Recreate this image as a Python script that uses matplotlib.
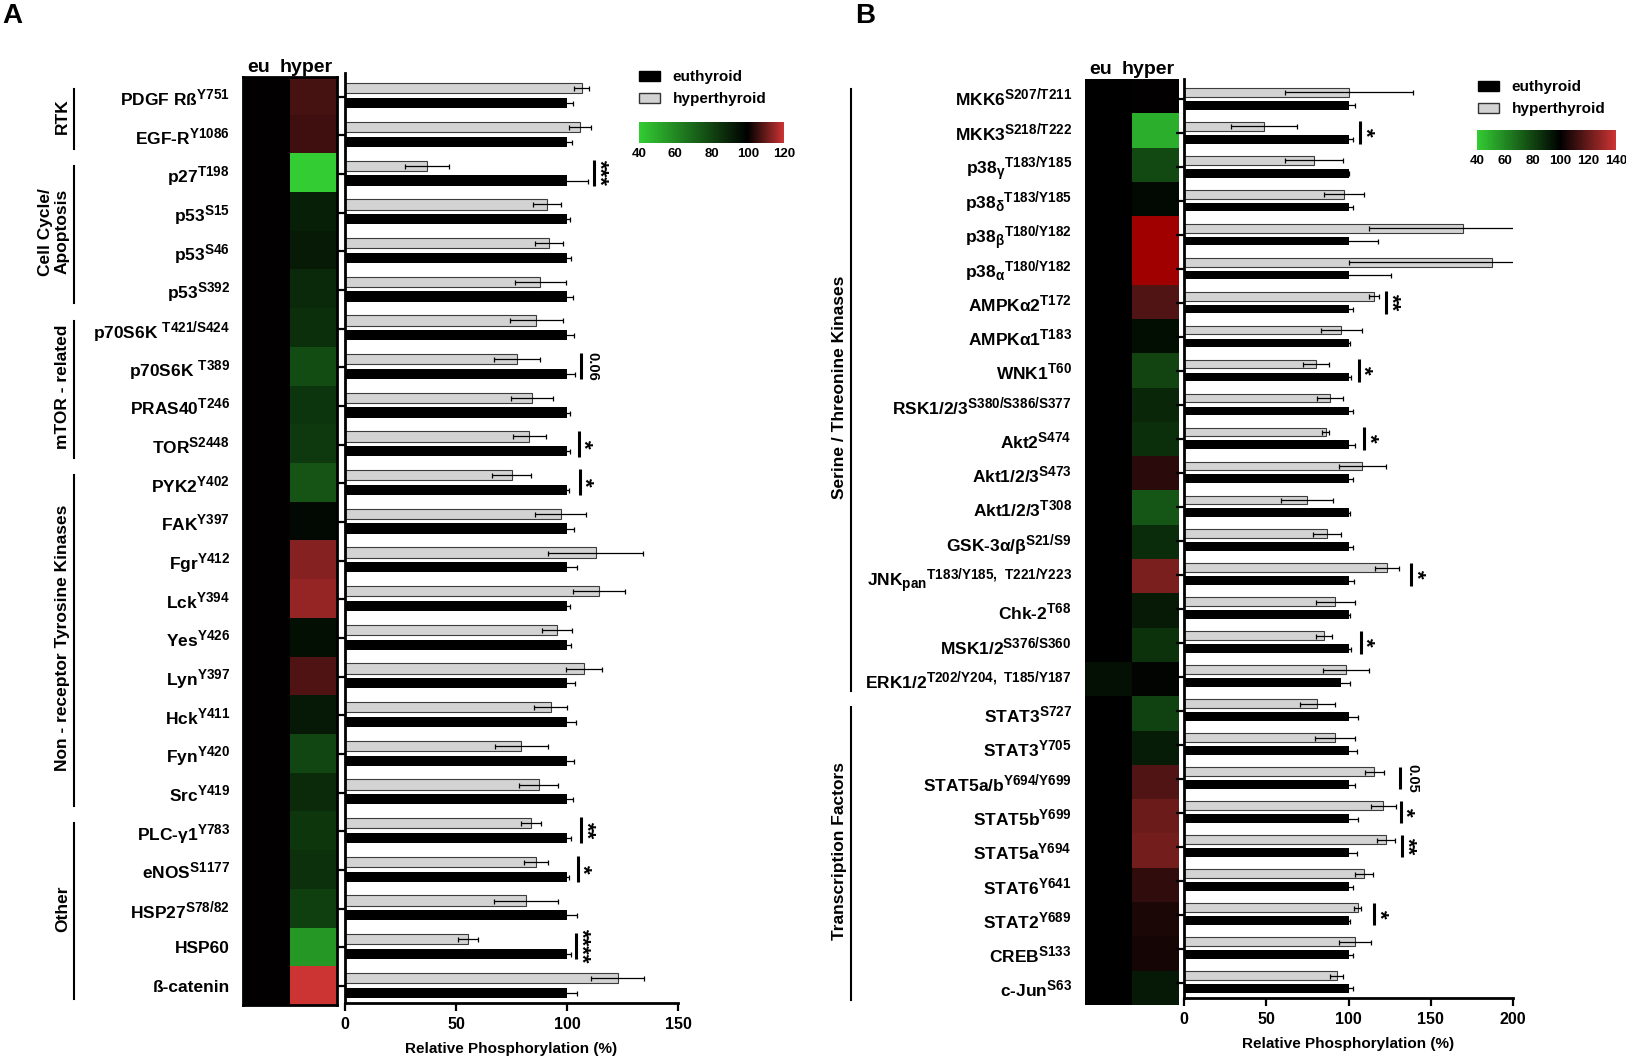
import numpy as np
import matplotlib
matplotlib.use('Agg')
import matplotlib.pyplot as plt
import matplotlib._mathtext as mtext
from matplotlib.colors import LinearSegmentedColormap, Normalize
from matplotlib.cm import ScalarMappable
from matplotlib.patches import Patch
from matplotlib.transforms import blended_transform_factory

plt.rcParams['font.family'] = ['Liberation Sans', 'DejaVu Sans']
plt.rcParams['font.weight'] = 'bold'
plt.rcParams['axes.labelweight'] = 'bold'
plt.rcParams['mathtext.default'] = 'regular'
# superscripts in the original are a bit larger than mathtext's default
mtext.SHRINK_FACTOR = 0.78

W, H = 1626, 1061

# ---- Panel A data ----
labels_a = [
    r'PDGF Rß$^{\mathregular{Y751}}$', r'EGF-R$^{\mathregular{Y1086}}$',
    r'p27$^{\mathregular{T198}}$', r'p53$^{\mathregular{S15}}$',
    r'p53$^{\mathregular{S46}}$', r'p53$^{\mathregular{S392}}$',
    r'p70S6K $^{\mathregular{T421/S424}}$', r'p70S6K $^{\mathregular{T389}}$',
    r'PRAS40$^{\mathregular{T246}}$', r'TOR$^{\mathregular{S2448}}$',
    r'PYK2$^{\mathregular{Y402}}$', r'FAK$^{\mathregular{Y397}}$',
    r'Fgr$^{\mathregular{Y412}}$', r'Lck$^{\mathregular{Y394}}$',
    r'Yes$^{\mathregular{Y426}}$', r'Lyn$^{\mathregular{Y397}}$',
    r'Hck$^{\mathregular{Y411}}$', r'Fyn$^{\mathregular{Y420}}$',
    r'Src$^{\mathregular{Y419}}$', r'PLC-γ1$^{\mathregular{Y783}}$',
    r'eNOS$^{\mathregular{S1177}}$', r'HSP27$^{\mathregular{S78/82}}$',
    'HSP60', 'ß-catenin',
]
hyper_a = [106.6, 106, 37, 91, 92, 88, 86.2, 77.6, 84.2, 83, 75, 97.1,
           113, 114.6, 95.5, 107.8, 92.6, 79.4, 87.2, 84, 85.9, 81.7, 55.6, 122.8]
hyper_err_a = [3.5, 5, 10, 6.3, 6.3, 11.5, 12, 10.4, 9.3, 7.4, 8.7, 11.5,
               21.4, 11.7, 6.9, 8.1, 7.5, 12, 8.7, 4.5, 5.4, 14.4, 4.5, 11.8]
eu_a = [100] * 24
eu_err_a = [2.7, 2.4, 9.6, 1.5, 1.6, 2.7, 3.2, 3.7, 1.2, 1.5, 1.0, 3.2,
            4.4, 1.2, 1.6, 3.7, 4.1, 3.2, 2.7, 1.6, 0.7, 4.5, 1.6, 4.7]
groups_a = [('RTK', 0, 1), ('Cell Cycle/\nApoptosis', 2, 5),
            ('mTOR - related', 6, 9),
            ('Non - receptor Tyrosine Kinases', 10, 18), ('Other', 19, 23)]
sig_a = [(2, 112.3, '***'), (7, 106.4, '0.06'), (9, 105.2, '*'),
         (10, 105.7, '*'), (19, 106.5, '**'), (20, 104.8, '*'),
         (22, 104.2, '****')]

# ---- Panel B data ----
labels_b = [
    r'MKK6$^{\mathregular{S207/T211}}$', r'MKK3$^{\mathregular{S218/T222}}$',
    r'p38$_{\mathregular{γ}}$$^{\mathregular{T183/Y185}}$',
    r'p38$_{\mathregular{δ}}$$^{\mathregular{T183/Y185}}$',
    r'p38$_{\mathregular{β}}$$^{\mathregular{T180/Y182}}$',
    r'p38$_{\mathregular{α}}$$^{\mathregular{T180/Y182}}$',
    r'AMPKα2$^{\mathregular{T172}}$', r'AMPKα1$^{\mathregular{T183}}$',
    r'WNK1$^{\mathregular{T60}}$', r'RSK1/2/3$^{\mathregular{S380/S386/S377}}$',
    r'Akt2$^{\mathregular{S474}}$', r'Akt1/2/3$^{\mathregular{S473}}$',
    r'Akt1/2/3$^{\mathregular{T308}}$', r'GSK-3α/β$^{\mathregular{S21/S9}}$',
    r'JNK$_{\mathregular{pan}}$$^{\mathregular{T183/Y185,\ T221/Y223}}$',
    r'Chk-2$^{\mathregular{T68}}$', r'MSK1/2$^{\mathregular{S376/S360}}$',
    r'ERK1/2$^{\mathregular{T202/Y204,\ T185/Y187}}$',
    r'STAT3$^{\mathregular{S727}}$', r'STAT3$^{\mathregular{Y705}}$',
    r'STAT5a/b$^{\mathregular{Y694/Y699}}$', r'STAT5b$^{\mathregular{Y699}}$',
    r'STAT5a$^{\mathregular{Y694}}$', r'STAT6$^{\mathregular{Y641}}$',
    r'STAT2$^{\mathregular{Y689}}$', r'CREB$^{\mathregular{S133}}$',
    r'c-Jun$^{\mathregular{S63}}$',
]
hyper_b = [100.2, 48.8, 78.8, 97.4, 169.7, 187.3, 115.6, 95.6, 80, 88.7,
           86.1, 108.3, 74.9, 87, 123.7, 92, 85, 98.6, 81, 91.7, 115.6,
           121.1, 122.7, 109.2, 105.5, 104.1, 92.8]
hyper_err_b = [39, 20, 17.6, 12.2, 57, 87, 2.9, 12.4, 7.9, 7.7, 2, 14.2,
               15.8, 8.5, 7.3, 12, 4.9, 14, 10.7, 12.1, 5.7, 7.7, 5.3, 5.4,
               2, 9.7, 3.8]
eu_b = [100] * 17 + [95.4] + [100] * 9
eu_err_b = [4, 2.7, 0.5, 3, 18, 25.8, 3, 1, 1.6, 3, 4, 3, 1, 2.5, 3.3, 1,
            1.4, 5.7, 5.7, 4.9, 4, 5.7, 4.9, 2.5, 1, 2.5, 2.5]
groups_b = [('Serine / Threonine Kinases', 0, 17),
            ('Transcription Factors', 18, 26)]
sig_b = [(1, 106.9, '*'), (6, 122.7, '**'), (8, 106.1, '*'),
         (10, 109.6, '*'), (14, 137.9, '*'), (16, 107.3, '*'),
         (20, 131.6, '0.05'), (21, 131.8, '*'), (22, 132.8, '**'),
         (24, 115.6, '*')]

# colour maps: green -> black (100 %) -> red
cmap_a = LinearSegmentedColormap.from_list(
    'gkr_a', [(0, '#33cc33'), (0.75, '#000000'), (1, '#cc3333')])
norm_a = Normalize(40, 120)
cmap_b = LinearSegmentedColormap.from_list(
    'gkr_b', [(0, '#33cc33'), (0.6, '#000000'), (1, '#cc3333')])
cmap_b = cmap_b.with_extremes(over='#a00000')
norm_b = Normalize(40, 140)


def px_axes(fig, left, top, right, bottom):
    return fig.add_axes([left / W, 1 - bottom / H,
                         (right - left) / W, (bottom - top) / H])


def draw_panel(fig, hm_box, bar_box, labels, eu, eu_err, hyper, hyper_err,
               groups, sig, xmax, bar_ylim, cmap, norm, group_x, frame):
    n = len(labels)
    rows = np.arange(n)

    # heatmap
    hm = px_axes(fig, *hm_box)
    heat = np.column_stack([eu, hyper])
    hm.imshow(heat, cmap=cmap, norm=norm, aspect='auto',
              interpolation='nearest')
    hm.set_yticks(rows)
    hm.set_yticklabels(labels, fontsize=12.5)
    hm.tick_params(axis='y', length=0, pad=9.5)
    hm.xaxis.tick_top()
    hm.set_xticks([-0.17, 0.85])
    hm.set_xticklabels(['eu', 'hyper'], fontsize=14)
    hm.tick_params(axis='x', length=0, pad=0.5)
    for s in hm.spines.values():
        s.set_visible(frame)
        s.set_linewidth(2)

    # group brackets
    trans = blended_transform_factory(fig.transFigure, hm.transData)
    for name, start, end in groups:
        hm.plot([(group_x + 4) / W] * 2, [start - 0.2, end + 0.35],
                transform=trans, color='black', lw=1.5, clip_on=False)
        hm.text(group_x / W, (start + end) / 2, name, transform=trans,
                rotation=90, ha='right', va='center', fontsize=12.5,
                multialignment='center')
    hm.set_xlim(-0.5, 1.5)
    hm.set_ylim(n - 0.5, -0.5)

    # bars
    ax = px_axes(fig, *bar_box)
    ek = dict(ecolor='black', elinewidth=0.9, capsize=1.8, capthick=0.9)
    ax.barh(rows - 0.21, hyper, height=0.26, color='#d3d3d3',
            edgecolor='#3c3c3c', linewidth=0.8, xerr=hyper_err, error_kw=ek)
    ax.barh(rows + 0.17, eu, height=0.26, color='black',
            xerr=eu_err, error_kw=ek)

    for r, x, txt in sig:
        ax.plot([x, x], [r - 0.36, r + 0.31], color='black', lw=2.2,
                solid_capstyle='butt')
        star = set(txt) == {'*'}
        ax.annotate(txt, xy=(x, r - 0.02), xytext=(3.2 if star else 8.4, 0),
                    textcoords='offset points', rotation=270,
                    ha='center', va='center', fontsize=16 if star else 10.5)

    ax.set_xlim(0, xmax)
    ax.set_ylim(*bar_ylim)
    ax.set_yticks(rows)
    ax.set_yticklabels([])
    ax.set_xticks(np.arange(0, xmax + 1, 50))
    ax.spines[['top', 'right']].set_visible(False)
    ax.spines[['left', 'bottom']].set_linewidth(2)
    ax.tick_params(axis='y', length=5.5, width=1.6)
    ax.tick_params(axis='x', length=6, width=1.6, labelsize=11.5, pad=4)
    ax.set_xlabel('Relative Phosphorylation (%)', fontsize=11, labelpad=7)
    return ax


def add_key(fig, leg_left, leg_top, cb_box, cmap, norm, ticks):
    handles = [Patch(facecolor='black', edgecolor='black', label='euthyroid'),
               Patch(facecolor='#d3d3d3', edgecolor='#333333', lw=1,
                     label='hyperthyroid')]
    fig.legend(handles=handles, loc='upper left',
               bbox_to_anchor=(leg_left / W, 1 - leg_top / H),
               frameon=False, fontsize=11, handlelength=1.4,
               handleheight=0.65, handletextpad=0.8, labelspacing=0.55,
               borderpad=0, borderaxespad=0)
    cax = px_axes(fig, *cb_box)
    cb = fig.colorbar(ScalarMappable(norm=norm, cmap=cmap), cax=cax,
                      orientation='horizontal', ticks=ticks)
    cb.outline.set_visible(False)
    cax.tick_params(length=0, labelsize=9.5, pad=3.5)


fig = plt.figure(figsize=(W / 100, H / 100), dpi=100)

draw_panel(fig, (243, 77, 337, 1005), (345, 73, 678, 1003), labels_a,
           eu_a, eu_err_a, hyper_a, hyper_err_a, groups_a, sig_a, 150,
           (23.44, -0.61), cmap_a, norm_a, 70, True)
add_key(fig, 639, 70, (639, 122, 784, 143), cmap_a, norm_a,
        [40, 60, 80, 100, 120])

draw_panel(fig, (1085, 79, 1179, 1005), (1184, 79, 1513, 998), labels_b,
           eu_b, eu_err_b, hyper_b, hyper_err_b, groups_b, sig_b, 200,
           (26.45, -0.6), cmap_b, norm_b, 847, False)
add_key(fig, 1478, 80, (1477, 130, 1616, 150), cmap_b, norm_b,
        [40, 60, 80, 100, 120, 140])

fig.text(2 / W, 1 - 3 / H, 'A', fontsize=20, ha='left', va='top')
fig.text(855 / W, 1 - 3 / H, 'B', fontsize=20, ha='left', va='top')

fig.savefig('out.png', dpi=100)
